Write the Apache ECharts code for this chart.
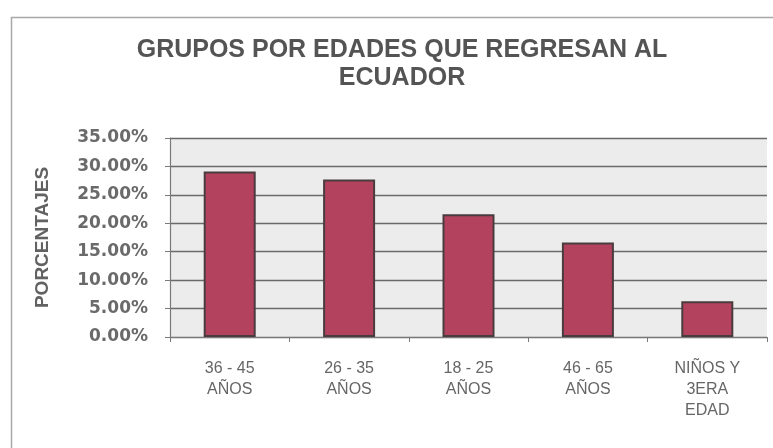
<!DOCTYPE html>
<html>
<head>
<meta charset="utf-8">
<script src="https://cdn.jsdelivr.net/npm/echarts@6/dist/echarts.min.js"></script>
<style>
html,body{margin:0;padding:0;background:#ffffff;}
#chart{width:773px;height:448px;}
</style>
</head>
<body>
<div id="chart"></div>
<script>
var titleText = 'GRUPOS POR EDADES QUE REGRESAN AL\nECUADOR';
var categories = ['36 - 45\nAÑOS', '26 - 35\nAÑOS', '18 - 25\nAÑOS', '46 - 65\nAÑOS', 'NIÑOS Y\n3ERA\nEDAD'];
var values = [29.1, 27.7, 21.6, 16.6, 6.3];
var yAxisName = 'PORCENTAJES';
var yMin = 0, yMax = 35, yStep = 5;

var chart = echarts.init(document.getElementById('chart'), null, {renderer: 'canvas'});
chart.setOption({
  animation: false,
  backgroundColor: '#ffffff',
  title: {
    text: titleText,
    left: 397,
    top: 31,
    textAlign: 'center',
    textStyle: {
      fontFamily: 'Liberation Sans, Arial, sans-serif',
      fontSize: 25,
      fontWeight: 'bold',
      color: '#545454',
      lineHeight: 28,
      align: 'center'
    }
  },
  graphic: [{
    type: 'rect',
    left: 9, top: 15,
    shape: {x: 0, y: 0, width: 800, height: 500},
    style: {fill: 'none', stroke: '#a8a8a8', lineWidth: 1.5},
    silent: true
  }],
  grid: {
    left: 170, right: 6, top: 138, bottom: 111,
    show: true,
    backgroundColor: '#ececec',
    borderWidth: 0
  },
  xAxis: {
    type: 'category',
    data: categories,
    axisLine: {show: true, lineStyle: {color: '#7a7a7a', width: 1.2}},
    axisTick: {show: true, length: 5, lineStyle: {color: '#7a7a7a'}},
    axisLabel: {
      margin: 21,
      fontFamily: 'Liberation Sans, Arial, sans-serif',
      fontSize: 16,
      color: '#666666',
      lineHeight: 21,
      align: 'center'
    }
  },
  yAxis: {
    type: 'value',
    min: yMin, max: yMax, interval: yStep,
    name: yAxisName,
    nameLocation: 'middle',
    nameGap: 118,
    nameRotate: 90,
    nameTextStyle: {
      fontFamily: 'Liberation Sans, Arial, sans-serif',
      fontSize: 19,
      fontWeight: 'bold',
      color: '#626262'
    },
    axisLine: {show: true, lineStyle: {color: '#7a7a7a', width: 1.2}},
    axisTick: {show: true, length: 5, lineStyle: {color: '#7a7a7a'}},
    axisLabel: {
      margin: 22,
      fontFamily: 'DejaVu Sans, sans-serif',
      fontSize: 17,
      fontWeight: 'bold',
      color: '#6a6a6a',
      formatter: function (v) { return v.toFixed(2) + '%'; }
    },
    splitLine: {show: true, lineStyle: {color: '#6a6a6a', width: 1.4}}
  },
  series: [{
    type: 'bar',
    data: values,
    barWidth: 52,
    itemStyle: {
      color: '#b3425f',
      borderColor: '#4a3c3e',
      borderWidth: 2
    }
  }]
});
</script>
</body>
</html>
